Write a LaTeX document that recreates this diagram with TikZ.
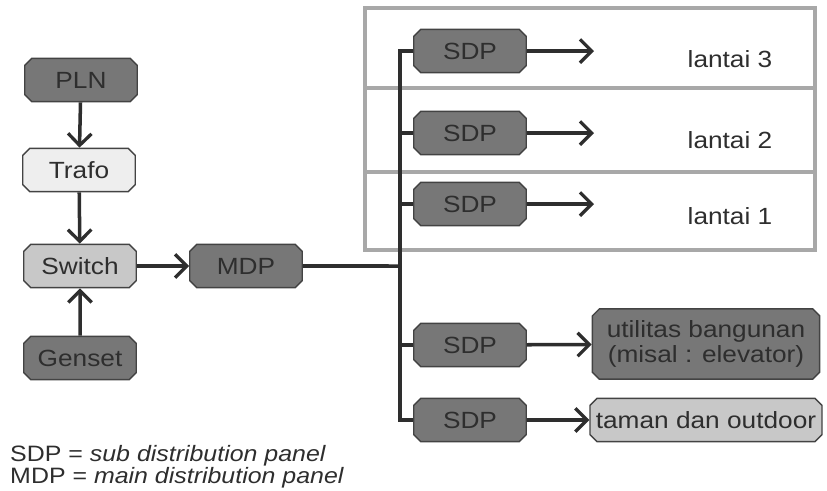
\documentclass[tikz,border=0pt]{standalone}
\usepackage{fontspec}
\setmainfont{Liberation Sans}[FakeStretch=1.12]
\usetikzlibrary{shapes.misc,arrows.meta}
\definecolor{panel}{HTML}{777777}
\definecolor{pale}{HTML}{EEEEEE}
\definecolor{mid}{HTML}{C8C8C8}
\definecolor{ink}{HTML}{2E2E2E}
\definecolor{frame}{HTML}{A8A8A8}
\begin{document}
\begin{tikzpicture}[x=0.03cm,y=-0.03cm,
    box/.style={chamfered rectangle,chamfered rectangle xsep=3pt,chamfered rectangle ysep=3pt,
      draw=ink!90,line width=1.2pt,text=ink,minimum width=96pt,minimum height=37pt,inner sep=2pt,
      font=\fontsize{20}{22}\selectfont},
    link/.style={draw=ink,line width=3pt,-{Straight Barb[length=10pt,width=20pt,line width=2.8pt]}},
    wire/.style={draw=ink,line width=3pt},
    lbl/.style={text=ink,font=\fontsize{20}{22}\selectfont}]
    \useasboundingbox (0,0) rectangle (827,490);

    \draw[frame,line width=2.8pt] (365,8) rectangle (815,250);
    \draw[frame,line width=2.8pt] (365,88) -- (815,88);
    \draw[frame,line width=2.8pt] (365,172) -- (815,172);

    \node[box,fill=panel] (pln) at (81,80) {PLN};
    \node[box,fill=pale] (trafo) at (79,170) {Trafo};
    \node[box,fill=mid] (switch) at (80,266) {Switch};
    \node[box,fill=panel] (genset) at (80,358) {Genset};
    \node[box,fill=panel] (mdp) at (246,266) {MDP};

    \node[box,fill=panel] (sdpc) at (470,51) {SDP};
    \node[box,fill=panel] (sdpb) at (470,133) {SDP};
    \node[box,fill=panel] (sdpa) at (470,204) {SDP};
    \node[box,fill=panel] (sdpu) at (470,345) {SDP};
    \node[box,fill=panel] (sdpt) at (470,420) {SDP};

    \node[box,fill=panel,minimum width=194pt,minimum height=60pt,align=center,
      font=\fontsize{20}{21.5}\selectfont] (util) at (706,344) {utilitas bangunan\\(misal : elevator)};
    \node[box,fill=mid,minimum width=194pt] (taman) at (706,420) {taman dan outdoor};

    \node[lbl] (lantaic) at (730,59) {lantai 3};
    \node[lbl] (lantaib) at (730,140) {lantai 2};
    \node[lbl] (lantaia) at (730,216) {lantai 1};

    \coordinate (bus) at (400,266);
    \coordinate (endc) at (594,51);
    \coordinate (endb) at (594,133);
    \coordinate (enda) at (594,204);

    \draw[link] (pln) -- (trafo);
    \draw[link] (trafo) -- (switch);
    \draw[link] (genset) -- (switch);
    \draw[link] (switch) -- (mdp);
    \draw[wire] (mdp) -- (bus);
    \draw[wire] (sdpc.west) -| (bus) |- (sdpt.west);
    \draw[wire] (bus) |- (sdpb.west);
    \draw[wire] (bus) |- (sdpa.west);
    \draw[wire] (bus) |- (sdpu.west);
    \draw[link] (sdpc) -- (endc);
    \draw[link] (sdpb) -- (endb);
    \draw[link] (sdpa) -- (enda);
    \draw[link] (sdpu) -- (util);
    \draw[link] (sdpt) -- (taman);

    \node[lbl,anchor=west,align=left,inner sep=0pt,font=\fontsize{19}{18.5}\selectfont] (legend) at (10,467)
      {SDP = \textit{sub distribution panel}\\MDP = \textit{main distribution panel}};
\end{tikzpicture}
\end{document}
